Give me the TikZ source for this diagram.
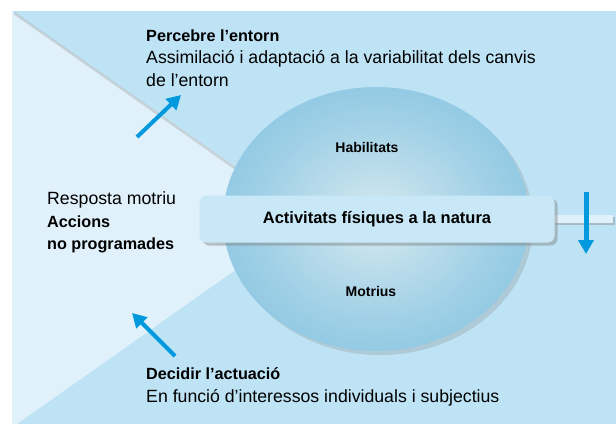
\documentclass[tikz,border=0pt]{standalone}
\usepackage{fontspec}
\setmainfont{Liberation Sans}
\usepackage{xcolor}
\usepackage{tikz}
\usetikzlibrary{shapes,arrows.meta,positioning,shadows}

\definecolor{skyblue}{RGB}{190,227,245}
\definecolor{paleblue}{RGB}{224,241,251}
\definecolor{barblue}{RGB}{200,232,248}
\definecolor{arrowblue}{RGB}{0,153,221}
\definecolor{ballin}{RGB}{205,229,238}
\definecolor{ballmid}{RGB}{158,207,230}
\definecolor{ballout}{RGB}{116,185,219}
\pgfdeclareradialshading{ballshade}{\pgfpoint{0bp}{0bp}}{color(0bp)=(ballin); color(3bp)=(ballin); color(20bp)=(ballmid); color(42bp)=(ballout); color(100bp)=(ballout)}
\newcommand{\hd}[1]{{\bfseries\fontsize{16.2}{22.5}\selectfont #1}}

\begin{document}
\begin{tikzpicture}[x=1pt, y=-1pt, node distance=1.5cm, auto, font=\fontsize{17.7}{22.5}\selectfont]
    % Define styles
    \tikzstyle{ball} = [ellipse, minimum width=306pt, minimum height=264pt, shading=ballshade, drop shadow={shadow xshift=4pt, shadow yshift=-4pt, opacity=.25}]
    \tikzstyle{block} = [rectangle, fill=barblue, rounded corners=7pt, minimum width=355pt, minimum height=47pt, font=\bfseries\fontsize{16.5}{20}\selectfont, drop shadow={shadow xshift=3pt, shadow yshift=-3pt, opacity=.45}]
    \tikzstyle{strip} = [rectangle, fill=paleblue, minimum width=59pt, minimum height=8pt, inner sep=0pt, drop shadow={shadow xshift=2pt, shadow yshift=-2pt, opacity=.4}]
    \tikzstyle{small} = [font=\bfseries\fontsize{14}{16}\selectfont]
    \tikzstyle{textblock} = [anchor=north west, align=left, inner sep=0pt]
    \tikzstyle{line} = [draw, arrowblue, line width=4pt, -{Triangle[length=14pt, width=15pt]}]

    \useasboundingbox (0,0) rectangle (616,424);
    % Background
    \fill [skyblue] (12,11) rectangle (616,424);
    \fill [paleblue] (12,11) -- (309,218) -- (17,424) -- (12,424) -- cycle;
    \draw [black!40, opacity=.35, line width=2.5pt] (14,13) -- (309,220);

    % Place nodes
    \node [ball] (ball) at (376,219) {};
    \node [strip, anchor=west] (tail) at (554,219) {};
    \node [block] (nat) at (377,219) {Activitats físiques a la natura};
    \node [small, above=39pt of nat, xshift=-10pt] (hab) {Habilitats};
    \node [small, below=40pt of nat, xshift=-6pt] (mot) {Motrius};

    \node [textblock] (percebre) at (146,29.5) {\hd{Percebre l’entorn}\\Assimilació i adaptació a la variabilitat dels canvis\\de l’entorn};
    \node [textblock] (resposta) at (47,191.5) {Resposta motriu\\\hd{Accions}\\\hd{no programades}};
    \node [textblock] (decidir) at (146,367.5) {\hd{Decidir l’actuació}\\En funció d’interessos individuals i subjectius};

    % Draw edges
    \coordinate (p1) at (137,137);
    \coordinate (p2) at (181,95);
    \coordinate (d1) at (175,356);
    \coordinate (d2) at (132,313);
    \coordinate (o1) at (586,192);
    \coordinate (o2) at (586,254);
    \path [line] (p1) -- (p2);
    \path [line] (d1) -- (d2);
    \path [line, line width=5pt] (o1) -- (o2);
\end{tikzpicture}
\end{document}
